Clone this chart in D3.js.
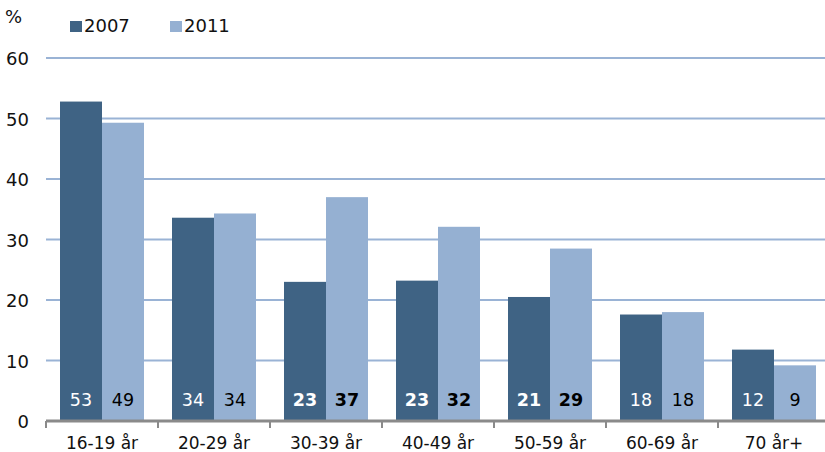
<!DOCTYPE html>
<html>
<head>
<meta charset="utf-8">
<script src="https://cdn.jsdelivr.net/npm/d3@7"></script>
<style>
  body { margin: 0; background: #fff; }
  text { font-family: "DejaVu Sans", sans-serif; }
</style>
</head>
<body>
<div id="chart"></div>
<script>
const categories = ["16-19 år", "20-29 år", "30-39 år", "40-49 år", "50-59 år", "60-69 år", "70 år+"];
const seriesNames = ["2007", "2011"];
const values2007 = [52.8, 33.6, 23.0, 23.2, 20.5, 17.6, 11.8];
const values2011 = [49.3, 34.3, 37.0, 32.1, 28.5, 18.0, 9.2];
const labels2007 = ["53", "34", "23", "23", "21", "18", "12"];
const labels2011 = ["49", "34", "37", "32", "29", "18", "9"];
// groups where the difference is marked in bold
const boldGroups = ["30-39 år", "40-49 år", "50-59 år"];
const yTicks = [0, 10, 20, 30, 40, 50, 60];

const colors = { "2007": "#3f6384", "2011": "#95b0d2" };

const W = 825, H = 452;
const margin = { top: 58, left: 46, bottom: 31, right: -5 };
const width = W - margin.left - margin.right;
const height = H - margin.top - margin.bottom;

const svg = d3.select("#chart").append("svg")
    .attr("width", W)
    .attr("height", H);

const g = svg.append("g")
    .attr("transform", "translate(" + margin.left + "," + margin.top + ")");

const x = d3.scaleBand()
    .domain(categories)
    .range([0, width])
    .paddingInner(0.25)
    .paddingOuter(0.125);

const xStep = d3.scaleBand().domain(categories).range([0, width]);

const y = d3.scaleLinear()
    .domain([0, 60])
    .range([height, 0]);

const inner = d3.scaleBand()
    .domain(seriesNames)
    .range([0, x.bandwidth()]);

// gridlines
g.selectAll(".grid")
    .data(yTicks.filter(d => d > 0))
    .enter().append("line")
    .attr("x1", 0)
    .attr("x2", width)
    .attr("y1", d => y(d))
    .attr("y2", d => y(d))
    .attr("stroke", "#9ab3d5")
    .attr("stroke-width", 2);

// y tick labels
g.selectAll(".ylab")
    .data(yTicks)
    .enter().append("text")
    .attr("x", -17)
    .attr("y", d => y(d) + 7)
    .attr("text-anchor", "end")
    .attr("font-size", 18)
    .attr("fill", "#111")
    .text(d => d);

const rows = categories.map((c, i) => ({
    cat: c,
    bars: [
        { s: "2007", v: values2007[i], label: labels2007[i] },
        { s: "2011", v: values2011[i], label: labels2011[i] }
    ]
}));

const groups = g.selectAll(".grp")
    .data(rows)
    .enter().append("g")
    .attr("transform", d => "translate(" + x(d.cat) + ",0)");

groups.selectAll("rect")
    .data(d => d.bars)
    .enter().append("rect")
    .attr("x", d => inner(d.s))
    .attr("y", d => y(d.v))
    .attr("width", inner.bandwidth())
    .attr("height", d => height - y(d.v))
    .attr("fill", d => colors[d.s]);

groups.selectAll(".vlab")
    .data(d => d.bars.map(b => Object.assign({ cat: d.cat }, b)))
    .enter().append("text")
    .attr("x", d => inner(d.s) + inner.bandwidth() / 2)
    .attr("y", height - 15)
    .attr("text-anchor", "middle")
    .attr("font-size", 17.5)
    .attr("font-weight", d => boldGroups.includes(d.cat) ? "bold" : "normal")
    .attr("fill", d => d.s === "2007" ? "#fff" : "#000")
    .text(d => d.label);

// x axis
const axis = g.append("g")
    .attr("transform", "translate(0," + height + ")");

axis.append("line")
    .attr("x1", 0)
    .attr("x2", width)
    .attr("stroke", "#8a8a8a")
    .attr("stroke-width", 3);

axis.selectAll(".tick")
    .data(categories)
    .enter().append("line")
    .attr("x1", d => xStep(d))
    .attr("x2", d => xStep(d))
    .attr("y1", 0)
    .attr("y2", 7)
    .attr("stroke", "#8a8a8a")
    .attr("stroke-width", 2);

axis.selectAll(".xlab")
    .data(categories)
    .enter().append("text")
    .attr("x", d => xStep(d) + xStep.bandwidth() / 2)
    .attr("y", 28)
    .attr("text-anchor", "middle")
    .attr("font-size", 17)
    .attr("fill", "#111")
    .text(d => d);

// unit label
svg.append("text")
    .attr("x", 5)
    .attr("y", 23)
    .attr("font-size", 18)
    .attr("fill", "#111")
    .text("%");

// legend
const legend = svg.append("g")
    .attr("transform", "translate(70,32)");

const legendItems = legend.selectAll("g")
    .data(seriesNames)
    .enter().append("g")
    .attr("transform", (d, i) => "translate(" + i * 100 + ",0)");

legendItems.append("rect")
    .attr("x", 0)
    .attr("y", -11)
    .attr("width", 12)
    .attr("height", 11)
    .attr("fill", d => colors[d]);

legendItems.append("text")
    .attr("x", 14)
    .attr("y", 0)
    .attr("font-size", 18)
    .attr("fill", "#111")
    .text(d => d);
</script>
</body>
</html>
